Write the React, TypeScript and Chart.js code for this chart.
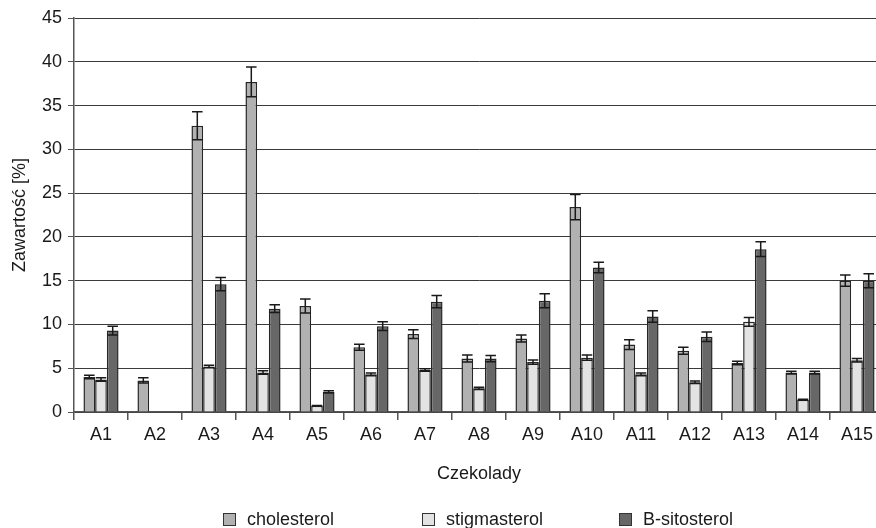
import React, { useEffect, useRef } from "react";
import { Chart, registerables } from "chart.js";

Chart.register(...registerables);

const categories = ["A1", "A2", "A3", "A4", "A5", "A6", "A7", "A8", "A9", "A10", "A11", "A12", "A13", "A14", "A15"];
const seriesNames = ["cholesterol", "stigmasterol", "B-sitosterol"];
const cholesterol = [4.0, 3.6, 32.7, 37.7, 12.1, 7.4, 8.9, 6.1, 8.4, 23.4, 7.7, 7.0, 5.6, 4.5, 15.0];
const cholesterolErr = [0.2, 0.3, 1.6, 1.7, 0.8, 0.35, 0.5, 0.4, 0.4, 1.45, 0.55, 0.4, 0.2, 0.15, 0.65];
const stigmasterol = [3.7, null, 5.2, 4.5, 0.7, 4.3, 4.8, 2.7, 5.7, 6.2, 4.3, 3.4, 10.3, 1.4, 5.9];
const stigmasterolErr = [0.2, null, 0.15, 0.2, 0.05, 0.15, 0.15, 0.12, 0.25, 0.3, 0.15, 0.15, 0.5, 0.05, 0.2];
const sitosterol = [9.3, null, 14.6, 11.8, 2.3, 9.8, 12.6, 6.1, 12.7, 16.5, 10.9, 8.6, 18.6, 4.5, 15.0];
const sitosterolErr = [0.5, null, 0.75, 0.45, 0.12, 0.5, 0.7, 0.35, 0.8, 0.6, 0.65, 0.55, 0.85, 0.15, 0.8];
const yTicksMax = 45;
const yTickStep = 5;

const colors = ["#b1b1b1", "#e3e3e3", "#676767"];
const errors = [cholesterolErr, stigmasterolErr, sitosterolErr];
const FONT = "'Liberation Sans', Arial, sans-serif";
const TEXT = "#1a1a1a";

const errorBarPlugin = {
  id: "errorBars",
  afterDatasetsDraw(chart: any) {
    const ctx = chart.ctx;
    const y = chart.scales.y;
    ctx.save();
    ctx.strokeStyle = "#1a1a1a";
    ctx.lineWidth = 1.5;
    chart.data.datasets.forEach((ds: any, i: number) => {
      const meta = chart.getDatasetMeta(i);
      meta.data.forEach((el: any, j: number) => {
        const v = ds.data[j];
        const e = errors[i][j];
        if (v == null || e == null) return;
        const x = el.x;
        const half = (el.width / 2) * 0.9;
        const yt = y.getPixelForValue(v + e);
        const yb = y.getPixelForValue(v - e);
        ctx.beginPath();
        ctx.moveTo(x, yt);
        ctx.lineTo(x, yb);
        ctx.moveTo(x - half, yt);
        ctx.lineTo(x + half, yt);
        ctx.moveTo(x - half, yb);
        ctx.lineTo(x + half, yb);
        ctx.stroke();
      });
    });
    ctx.restore();
  },
};

const legendPlugin = {
  id: "customLegend",
  afterDraw(chart: any) {
    const ctx = chart.ctx;
    const xs = [223, 422, 619];
    const boxTop = 513;
    const box = 13;
    ctx.save();
    ctx.font = `18px ${FONT}`;
    ctx.textBaseline = "middle";
    ctx.textAlign = "left";
    seriesNames.forEach((name, i) => {
      ctx.fillStyle = colors[i];
      ctx.fillRect(xs[i], boxTop, box, box);
      ctx.strokeStyle = "#333";
      ctx.lineWidth = 1;
      ctx.strokeRect(xs[i] + 0.5, boxTop + 0.5, box - 1, box - 1);
      ctx.fillStyle = TEXT;
      ctx.fillText(name, xs[i] + 24, boxTop + box / 2 + 1);
    });
    ctx.restore();
  },
};

export default function App() {
  const ref = useRef<HTMLCanvasElement | null>(null);
  useEffect(() => {
    if (!ref.current) return;
    const chart = new Chart(ref.current, {
      type: "bar",
      data: {
        labels: categories,
        datasets: [
          { label: seriesNames[0], data: cholesterol, backgroundColor: colors[0] },
          { label: seriesNames[1], data: stigmasterol, backgroundColor: colors[1] },
          { label: seriesNames[2], data: sitosterol, backgroundColor: colors[2] },
        ].map((d) => ({
          ...d,
          borderColor: "#262626",
          borderWidth: 1.5,
          categoryPercentage: 0.65,
          barPercentage: 1.0,
        })),
      },
      options: {
        responsive: false,
        animation: false,
        layout: { padding: { top: 18, left: 0, right: 0, bottom: 0 } },
        plugins: {
          legend: { display: false },
          tooltip: { enabled: false },
        },
        scales: {
          x: {
            offset: true,
            grid: {
              offset: true,
              drawOnChartArea: false,
              drawTicks: true,
              tickLength: 8,
              color: "#555",
              lineWidth: 1.5,
            },
            border: { display: true, color: "#555", width: 1.5 },
            ticks: { font: { family: FONT, size: 18 }, color: TEXT, padding: 4, maxRotation: 0, autoSkip: false },
            title: {
              display: true,
              text: "Czekolady",
              font: { family: FONT, size: 18 },
              color: TEXT,
              padding: { top: 0, bottom: 43 },
            },
            afterFit: (s: any) => {
              s.height = 116;
            },
          },
          y: {
            min: 0,
            max: yTicksMax,
            ticks: { stepSize: yTickStep, font: { family: FONT, size: 18 }, color: TEXT, padding: 6 },
            grid: { color: "#3a3a3a", lineWidth: 1, drawTicks: true, tickLength: 6, tickColor: "#555" },
            border: { display: true, color: "#555", width: 1.5 },
            title: {
              display: true,
              text: "Zawartość [%]",
              font: { family: FONT, size: 18 },
              color: TEXT,
              padding: { top: 9, bottom: 0 },
            },
            afterFit: (s: any) => {
              s.width = 74;
            },
          },
        },
      },
      plugins: [errorBarPlugin, legendPlugin],
    });
    return () => chart.destroy();
  }, []);
  return (
    <div style={{ position: "fixed", left: 0, top: 0, width: 876, height: 528, overflow: "hidden", background: "#fff" }}>
      <canvas ref={ref} width={884} height={528} style={{ display: "block", width: 884, height: 528 }} />
    </div>
  );
}
